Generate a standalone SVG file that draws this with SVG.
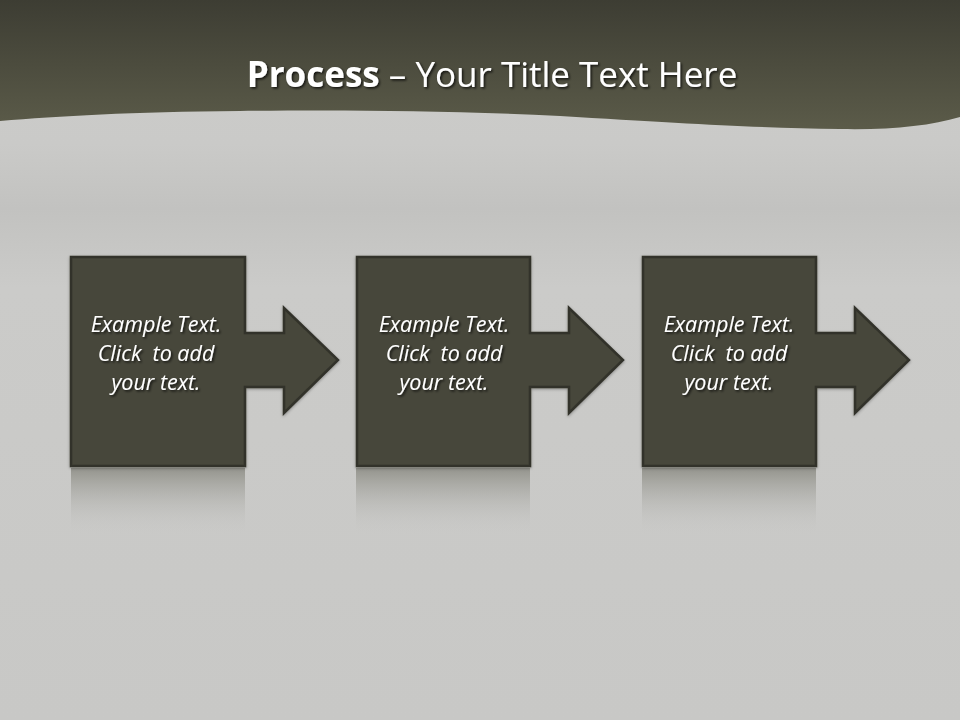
<svg xmlns="http://www.w3.org/2000/svg" width="960" height="720" viewBox="0 0 960 720">
  <defs>
    <linearGradient id="bg" x1="0" y1="0" x2="0" y2="1">
      <stop offset="0" stop-color="#cdcdcb"/>
      <stop offset="0.2" stop-color="#cacac8"/>
      <stop offset="0.29" stop-color="#c2c2c0"/>
      <stop offset="0.4" stop-color="#cbcbc9"/>
      <stop offset="1" stop-color="#c8c8c6"/>
    </linearGradient>
    <linearGradient id="hdr" x1="0" y1="0" x2="0" y2="1">
      <stop offset="0" stop-color="#3d3d33"/>
      <stop offset="1" stop-color="#5b5b49"/>
    </linearGradient>
    <linearGradient id="refl" x1="0" y1="0" x2="0" y2="1">
      <stop offset="0" stop-color="#8e8e86" stop-opacity="0.9"/>
      <stop offset="1" stop-color="#c8c8c6" stop-opacity="0"/>
    </linearGradient>
    <filter id="ts" x="-10%" y="-30%" width="130%" height="160%">
      <feDropShadow dx="1.5" dy="1.5" stdDeviation="1.2" flood-color="#000" flood-opacity="0.75"/>
    </filter>
    <filter id="bs" x="-10%" y="-10%" width="130%" height="130%">
      <feDropShadow dx="0" dy="1" stdDeviation="1.5" flood-color="#000" flood-opacity="0.35"/>
    </filter>
  </defs>
  <style>
    .box { fill: #46463a; stroke: #32322a; stroke-width: 2.5; stroke-linejoin: miter; }
    .lbl { font-family: "Open Sans", "Liberation Sans", sans-serif; font-style: italic; font-size: 21.5px; fill: #ffffff; text-anchor: middle; white-space: pre; }
    .title { font-family: "Open Sans", "Liberation Sans", sans-serif; font-size: 35px; fill: #ffffff; text-anchor: middle; }
  </style>

  <rect x="0" y="0" width="960" height="720" fill="url(#bg)"/>
  <path d="M0,0 H960 V117 C930,126 890,130 840,129 C760,128 690,124 560,116 C440,110 330,110 240,111 C130,112 60,116 0,121 Z" fill="url(#hdr)"/>

  <text class="title" x="492" y="87" filter="url(#ts)"><tspan font-weight="bold">Process</tspan> – Your Title Text Here</text>

  <g id="reflections">
    <rect x="71" y="468" width="174" height="66" fill="url(#refl)"/>
    <rect x="356" y="468" width="174" height="66" fill="url(#refl)"/>
    <rect x="642" y="468" width="174" height="66" fill="url(#refl)"/>
  </g>

  <g id="connectors"></g>

  <g id="node1">
    <path class="box" filter="url(#bs)" d="M71,257 H245 V333 H284 V308 L338,360 L284,413 V387 H245 V466 H71 Z"/>
    <g filter="url(#ts)">
      <text class="lbl" x="156" y="332">Example Text.</text>
      <text class="lbl" x="156" y="361" xml:space="preserve">Click  to add</text>
      <text class="lbl" x="156" y="390">your text.</text>
    </g>
  </g>
  <g id="node2">
    <path class="box" filter="url(#bs)" d="M357,257 H530 V333 H569 V308 L623,360 L569,413 V387 H530 V466 H357 Z"/>
    <g filter="url(#ts)">
      <text class="lbl" x="444" y="332">Example Text.</text>
      <text class="lbl" x="444" y="361" xml:space="preserve">Click  to add</text>
      <text class="lbl" x="444" y="390">your text.</text>
    </g>
  </g>
  <g id="node3">
    <path class="box" filter="url(#bs)" d="M643,257 H816 V333 H855 V308 L909,360 L855,413 V387 H816 V466 H643 Z"/>
    <g filter="url(#ts)">
      <text class="lbl" x="729" y="332">Example Text.</text>
      <text class="lbl" x="729" y="361" xml:space="preserve">Click  to add</text>
      <text class="lbl" x="729" y="390">your text.</text>
    </g>
  </g>
</svg>
